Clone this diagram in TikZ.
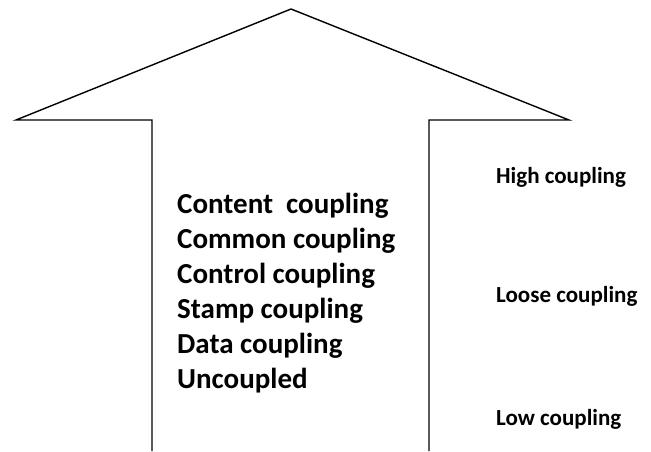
\documentclass[tikz,border=0pt]{standalone}
\usepackage{fontspec}
\setmainfont{Carlito}
\usetikzlibrary{positioning}

\begin{document}
\begin{tikzpicture}[x=1pt, y=-1pt,
level/.style={anchor=base west, font=\bfseries\fontsize{29}{34}\selectfont, inner sep=0pt},
grade/.style={anchor=base west, font=\bfseries\fontsize{23}{27}\selectfont, inner sep=0pt}]

\useasboundingbox (0,0) rectangle (651,451);

% big arrow outline
\draw [line width=1.4pt, line join=miter]
 (152,451) -- (152,120) -- (16,120) -- (291,9) -- (569,120) -- (429,120) -- (429,451);

% coupling types
\node [level] (content) at (177,213) {Content\ \ coupling};
\node [level] (common) [below=35pt of content.base west, anchor=base west] {Common coupling};
\node [level] (control) [below=35pt of common.base west, anchor=base west] {Control coupling};
\node [level] (stamp) [below=35pt of control.base west, anchor=base west] {Stamp coupling};
\node [level] (data) [below=35pt of stamp.base west, anchor=base west] {Data coupling};
\node [level] (uncoupled) [below=35pt of data.base west, anchor=base west] {Uncoupled};

% degree of coupling
\node [grade] (high) at (496,183) {High coupling};
\node [grade] (loose) at (496,302) {Loose coupling};
\node [grade] (low) at (496,425) {Low coupling};

\end{tikzpicture}
\end{document}
